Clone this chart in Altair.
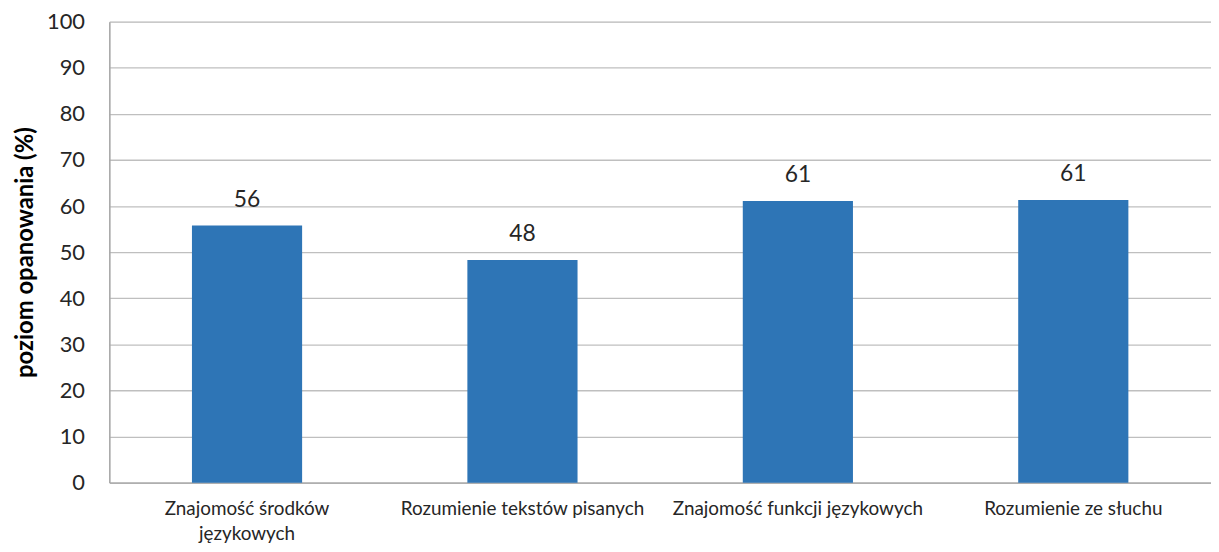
import altair as alt
import pandas as pd

categories = [
    "Znajomość środków językowych",
    "Rozumienie tekstów pisanych",
    "Znajomość funkcji językowych",
    "Rozumienie ze słuchu",
]
values = [55.8, 48.3, 61.1, 61.3]
labels = ["56", "48", "61", "61"]

df = pd.DataFrame({"kat": categories, "val": values, "lab": labels})

FONT = "Lato"

x = alt.X(
    "kat:N",
    sort=categories,
    title=None,
    scale=alt.Scale(paddingInner=0.6, paddingOuter=0.3),
    axis=alt.Axis(
        labelAngle=0,
        labelFontSize=19,
        labelColor="#262626",
        labelFont=FONT,
        labelPadding=17,
        labelLineHeight=25,
        labelLimit=300,
        ticks=False,
        domainColor="#A6A6A6",
        domainWidth=1.5,
        labelExpr="datum.value == 'Znajomość środków językowych' ? ['Znajomość środków', 'językowych'] : datum.label",
    ),
)

y = alt.Y(
    "val:Q",
    title="poziom opanowania (%)",
    scale=alt.Scale(domain=[0, 100], nice=False),
    axis=alt.Axis(
        values=list(range(0, 101, 10)),
        labelFontSize=22,
        labelColor="#262626",
        labelFont=FONT,
        labelPadding=25,
        ticks=False,
        domainColor="#A6A6A6",
        domainWidth=1.5,
        gridColor="#BFBFBF",
        gridWidth=1.3,
        titleFont=FONT,
        titleFontSize=24,
        titleFontWeight="bold",
        titleColor="#000000",
        titlePadding=9,
    ),
)

bars = alt.Chart(df).mark_bar(color="#2E75B6").encode(x=x, y=y)
text = alt.Chart(df).mark_text(
    dy=-14, fontSize=23, font=FONT, color="#262626", baseline="bottom"
).encode(x=alt.X("kat:N", sort=categories), y="val:Q", text="lab:N")

chart = (
    alt.layer(bars, text)
    .properties(
        width=1109,
        height=464,
        autosize=alt.AutoSizeParams(type="none"),
        padding={"left": 102, "top": 12, "right": 0, "bottom": 60},
    )
    .configure_view(stroke=None)
    .configure(background="white")
)

chart.save("out.html", embed_options={"renderer": "svg", "actions": False})
